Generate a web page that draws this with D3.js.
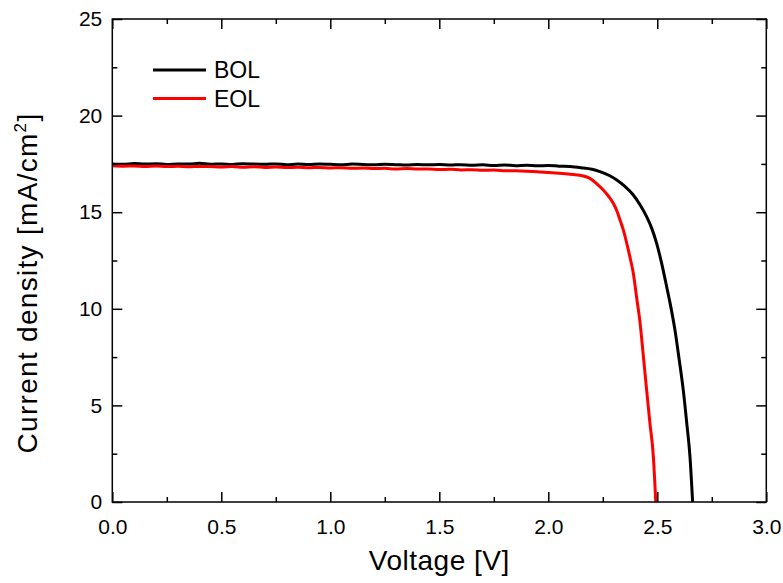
<!DOCTYPE html>
<html>
<head>
<meta charset="utf-8">
<script src="https://cdn.jsdelivr.net/npm/d3@7"></script>
<style>
  html, body { margin: 0; padding: 0; background: #fff; }
  svg { display: block; }
  text { font-family: "Liberation Sans", Arial, sans-serif; fill: #000; }
</style>
</head>
<body>
<svg id="chart" width="783" height="583"></svg>
<script>
// J-V curves: beginning of life vs end of life
const voltageBOL = [
  0.00,0.05,0.10,0.15,0.20,0.25,0.30,0.35,0.40,0.45,
  0.50,0.55,0.60,0.65,0.70,0.75,0.80,0.85,0.90,0.95,
  1.00,1.05,1.10,1.15,1.20,1.25,1.30,1.35,1.40,1.45,
  1.50,1.55,1.60,1.65,1.70,1.75,1.80,1.85,1.90,1.95,
  2.00,2.05,2.10,2.15,2.20,
  2.237,2.28,2.314,2.35,2.39,2.42,2.451,2.475,2.497,2.52,
  2.543,2.562,2.581,2.60,2.619,2.635,2.65,2.662
];
const currentBOL = [
  17.50,17.48,17.52,17.49,17.51,17.47,17.50,17.49,17.53,17.48,
  17.50,17.47,17.51,17.49,17.48,17.50,17.46,17.49,17.47,17.50,
  17.48,17.46,17.49,17.47,17.45,17.48,17.46,17.44,17.47,17.45,
  17.47,17.44,17.46,17.43,17.45,17.42,17.44,17.41,17.43,17.40,
  17.42,17.38,17.36,17.30,17.22,
  17.10,16.90,16.67,16.35,15.89,15.40,14.77,14.15,13.39,12.35,
  11.14,10.10,8.90,7.40,5.80,4.10,2.34,0.00
];

const voltageEOL = [
  0.00,0.05,0.10,0.15,0.20,0.25,0.30,0.35,0.40,0.45,
  0.50,0.55,0.60,0.65,0.70,0.75,0.80,0.85,0.90,0.95,
  1.00,1.05,1.10,1.15,1.20,1.25,1.30,1.35,1.40,1.45,
  1.50,1.55,1.60,1.65,1.70,1.75,1.80,1.85,1.90,1.95,
  2.00,2.05,2.10,2.15,
  2.191,2.225,2.252,2.278,2.298,2.315,2.329,2.345,2.36,2.375,
  2.39,2.405,2.421,2.436,2.451,2.466,2.482,2.493
];
const currentEOL = [
  17.40,17.38,17.39,17.37,17.39,17.36,17.38,17.35,17.37,17.36,
  17.34,17.36,17.33,17.35,17.32,17.34,17.31,17.33,17.30,17.32,
  17.29,17.30,17.27,17.29,17.26,17.27,17.24,17.26,17.23,17.24,
  17.21,17.22,17.19,17.20,17.17,17.18,17.15,17.14,17.12,17.09,
  17.06,17.02,16.97,16.90,
  16.75,16.44,16.15,15.80,15.46,15.05,14.60,14.05,13.39,12.65,
  11.84,10.60,9.27,7.55,5.80,4.10,2.34,0.00
];

const seriesNames = ["BOL", "EOL"];
const seriesColors = ["#000000", "#ff0000"];

const xTicks = [0.0, 0.5, 1.0, 1.5, 2.0, 2.5, 3.0];
const xMinorTicks = [0.25, 0.75, 1.25, 1.75, 2.25, 2.75];
const yTicks = [0, 5, 10, 15, 20, 25];
const yMinorTicks = [2.5, 7.5, 12.5, 17.5, 22.5];

const svg = d3.select("#chart");
const plotLeft = 112.3, plotRight = 766.3, plotTop = 19, plotBottom = 502;

const x = d3.scaleLinear().domain([0, 3]).range([plotLeft, plotRight]);
const y = d3.scaleLinear().domain([0, 25]).range([plotBottom, plotTop]);

const clipId = "plot-clip";
svg.append("clipPath").attr("id", clipId)
  .append("rect").attr("x", plotLeft).attr("y", plotTop)
  .attr("width", plotRight - plotLeft).attr("height", plotBottom - plotTop);

// curves
const series = [
  { v: voltageBOL, j: currentBOL },
  { v: voltageEOL, j: currentEOL }
];
const line = d3.line()
  .x(d => x(d[0])).y(d => y(d[1]))
  .curve(d3.curveMonotoneX);

series.forEach((s, i) => {
  const pts = s.v.map((v, k) => [v, s.j[k]]);
  svg.append("path")
    .attr("d", line(pts))
    .attr("fill", "none")
    .attr("stroke", seriesColors[i])
    .attr("stroke-width", 3)
    .attr("stroke-linejoin", "round")
    .attr("clip-path", `url(#${clipId})`);
});

// axes with inward ticks on all four sides
function tickAxis(axisFn, scale, ticks, size, transform, fmt, pad) {
  const a = axisFn(scale).tickValues(ticks).tickSizeInner(-size).tickSizeOuter(0).tickPadding(pad || 0);
  a.tickFormat(fmt || (() => ""));
  const g = svg.append("g").attr("transform", transform).call(a);
  g.select(".domain").remove();
  g.selectAll(".tick line").attr("stroke", "#000").attr("stroke-width", 1.5);
  g.selectAll(".tick text").attr("font-size", 21).style("font-family", "'Liberation Sans', Arial, sans-serif");
  return g;
}
const fx = d3.format(".1f");
const fy = d3.format("d");

tickAxis(d3.axisBottom, x, xTicks, 10, `translate(0,${plotBottom})`, fx, 17);
tickAxis(d3.axisBottom, x, xMinorTicks, 5, `translate(0,${plotBottom})`);
tickAxis(d3.axisTop, x, xTicks, 10, `translate(0,${plotTop})`);
tickAxis(d3.axisTop, x, xMinorTicks, 5, `translate(0,${plotTop})`);
tickAxis(d3.axisLeft, y, yTicks, 10, `translate(${plotLeft},0)`, fy, 10);
tickAxis(d3.axisLeft, y, yMinorTicks, 5, `translate(${plotLeft},0)`);
tickAxis(d3.axisRight, y, yTicks, 10, `translate(${plotRight},0)`);
tickAxis(d3.axisRight, y, yMinorTicks, 5, `translate(${plotRight},0)`);

// frame
svg.append("rect")
  .attr("x", plotLeft).attr("y", plotTop)
  .attr("width", plotRight - plotLeft).attr("height", plotBottom - plotTop)
  .attr("fill", "none").attr("stroke", "#000").attr("stroke-width", 1.5);

// axis titles
svg.append("text")
  .attr("x", (plotLeft + plotRight) / 2).attr("y", 570)
  .attr("text-anchor", "middle").attr("font-size", 28)
  .attr("letter-spacing", 0.5)
  .text("Voltage [V]");

const yTitle = svg.append("text")
  .attr("transform", `translate(37,283) rotate(-90)`)
  .attr("text-anchor", "middle").attr("font-size", 28)
  .attr("letter-spacing", 1.3);
yTitle.append("tspan").text("Current density [mA/cm");
yTitle.append("tspan").attr("dy", -11).attr("font-size", 17).text("2");
yTitle.append("tspan").attr("dy", 11).text("]");

// legend
const legend = svg.append("g");
seriesNames.forEach((name, i) => {
  const ly = 70 + i * 28.5;
  legend.append("line")
    .attr("x1", 153).attr("x2", 206).attr("y1", ly).attr("y2", ly)
    .attr("stroke", seriesColors[i]).attr("stroke-width", 3);
  legend.append("text")
    .attr("x", 214).attr("y", ly + 8)
    .attr("font-size", 23)
    .text(name);
});
</script>
</body>
</html>
